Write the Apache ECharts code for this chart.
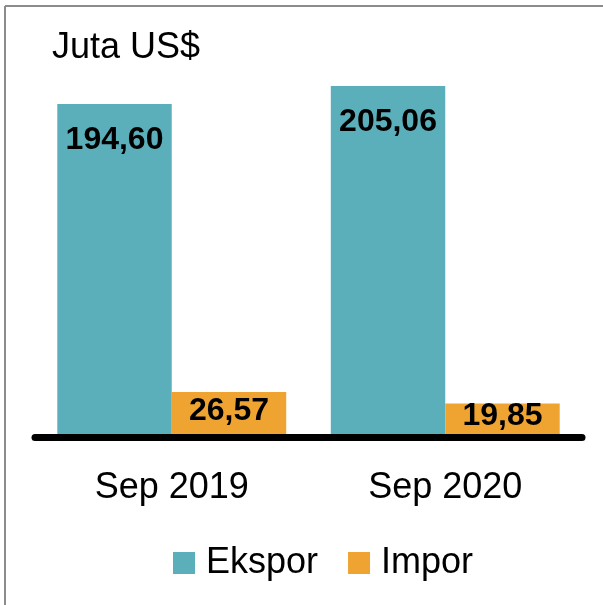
<!DOCTYPE html>
<html>
<head>
<meta charset="utf-8">
<script src="https://cdn.jsdelivr.net/npm/echarts@6/dist/echarts.min.js"></script>
<style>
html,body{margin:0;padding:0;background:#fff;}
#chart{width:603px;height:605px;}
</style>
</head>
<body>
<div id="chart"></div>
<script>
const categories = ['Sep 2019', 'Sep 2020'];
const ekspor = [194.60, 205.06];
const impor = [26.57, 19.85];
const seriesNames = ['Ekspor', 'Impor'];
const unitTitle = 'Juta US$';

const FONT = '"Liberation Sans Narrow", "Arial Narrow", "Liberation Sans", Arial, sans-serif';
const fmt = v => v.toFixed(2).replace('.', ',');

const chart = echarts.init(document.getElementById('chart'), null, {renderer: 'canvas'});
chart.setOption({
  animation: false,
  backgroundColor: '#ffffff',
  title: {
    text: unitTitle,
    left: 47,
    top: 25,
    textStyle: {fontFamily: FONT, fontSize: 36, fontWeight: 'normal', color: '#000'}
  },
  graphic: [
    {type: 'line', shape: {x1: 5, y1: 6, x2: 603, y2: 6}, style: {stroke: '#8c8c8c', lineWidth: 2}},
    {type: 'line', shape: {x1: 5, y1: 6, x2: 5, y2: 605}, style: {stroke: '#8c8c8c', lineWidth: 2}}
  ],
  legend: {
    data: seriesNames,
    bottom: 19,
    left: 168,
    itemWidth: 22,
    itemHeight: 22,
    itemGap: 30,
    icon: 'rect',
    textStyle: {fontFamily: FONT, fontSize: 36, color: '#000', padding: [0, 0, 0, 6]}
  },
  grid: {left: 35, right: 21, top: 60.5, bottom: 167.5, containLabel: false},
  xAxis: {
    type: 'category',
    data: categories,
    z: 5,
    axisLine: {show: true, lineStyle: {color: '#000', width: 7}},
    axisTick: {show: false},
    axisLabel: {fontFamily: FONT, fontSize: 36, color: '#000', margin: 33}
  },
  yAxis: {
    type: 'value',
    min: 0,
    max: 220,
    show: false,
    splitLine: {show: false}
  },
  series: [
    {
      name: seriesNames[0],
      type: 'bar',
      data: ekspor,
      barGap: '0%',
      barCategoryGap: '16.3%',
      itemStyle: {color: '#5aafba'},
      label: {
        show: true,
        position: 'insideTop',
        distance: 20,
        formatter: p => fmt(p.value),
        fontFamily: FONT, fontSize: 32, fontWeight: 'bold', color: '#000'
      }
    },
    {
      name: seriesNames[1],
      type: 'bar',
      data: impor,
      itemStyle: {color: '#efa431'},
      label: {
        show: true,
        position: 'inside',
        offset: [0, -4],
        formatter: p => fmt(p.value),
        fontFamily: FONT, fontSize: 32, fontWeight: 'bold', color: '#000'
      }
    }
  ]
});
</script>
</body>
</html>
